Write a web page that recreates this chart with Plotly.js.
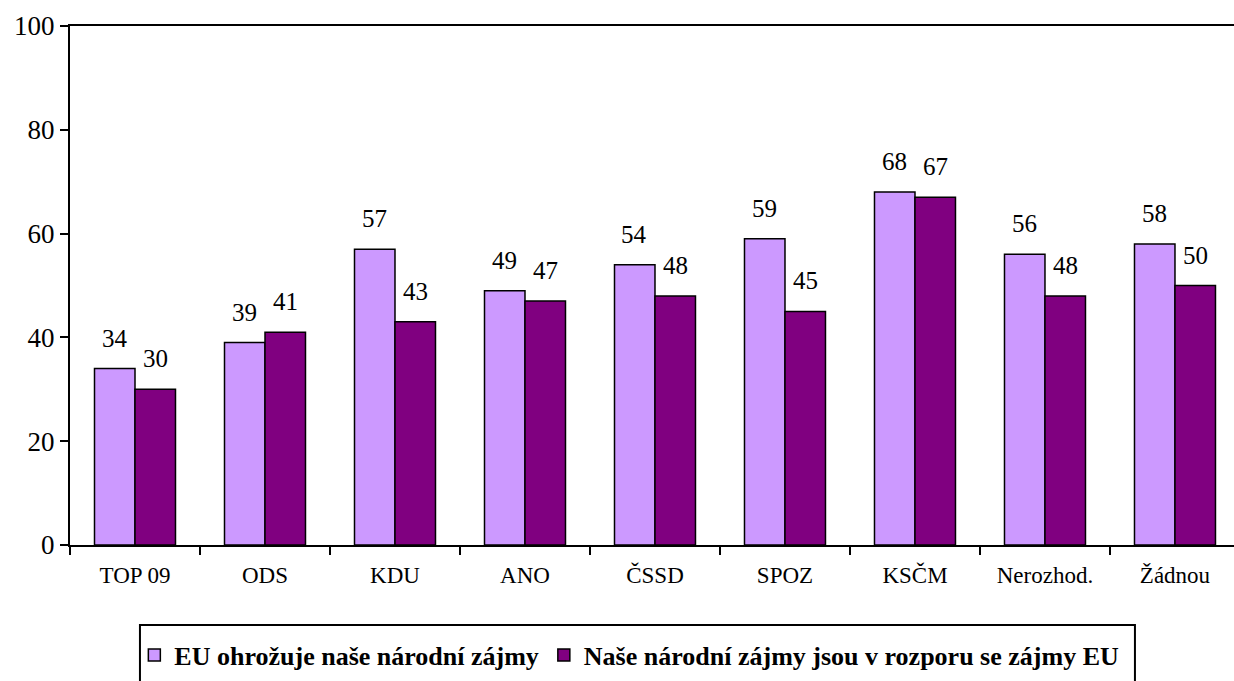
<!DOCTYPE html>
<html>
<head>
<meta charset="utf-8">
<script src="https://cdn.plot.ly/plotly-3.0.1.min.js"></script>
<style>html,body{margin:0;padding:0;background:#fff;}</style>
</head>
<body>
<div id="chart" style="width:1234px;height:681px;"></div>
<script>
const categories = ["TOP 09", "ODS", "KDU", "ANO", "ČSSD", "SPOZ", "KSČM", "Nerozhod.", "Žádnou"];
const seriesNames = ["EU ohrožuje naše národní zájmy", "Naše národní zájmy jsou v rozporu se zájmy EU"];
const threatens = [34, 39, 57, 49, 54, 59, 68, 56, 58];
const conflict = [30, 41, 43, 47, 48, 45, 67, 48, 50];
const yTicks = [0, 20, 40, 60, 80, 100];

const serif = "Liberation Serif";
const colors = ["#CC99FF", "#800080"];

const traces = [threatens, conflict].map((vals, i) => ({
  type: "bar",
  name: seriesNames[i],
  x: categories,
  y: vals,
  marker: { color: colors[i], line: { color: "#000", width: 1.5 } },
  hoverinfo: "x+y"
}));

const annotations = [];
[threatens, conflict].forEach((vals, i) => {
  vals.forEach((v, j) => {
    annotations.push({
      x: categories[j], y: v, xref: "x", yref: "y",
      text: String(v), showarrow: false,
      xanchor: "center", yanchor: "bottom",
      xshift: i === 0 ? -20.5 : 20.5, yshift: 15,
      font: { family: serif, size: 25, color: "#000" }
    });
  });
});

const layout = {
  width: 1234, height: 681,
  margin: { l: 70, r: 0, t: 26, b: 136 },
  paper_bgcolor: "#fff", plot_bgcolor: "#fff",
  barmode: "group", bargap: 0.377, bargroupgap: 0,
  font: { family: serif, color: "#000" },
  xaxis: {
    type: "category",
    range: [-0.5, 8.454],
    showline: true, linecolor: "#000", linewidth: 2, mirror: true,
    ticks: "outside", tickson: "boundaries", ticklen: 8, tickwidth: 2, tickcolor: "#000",
    ticklabelstandoff: 8,
    showgrid: false, zeroline: false,
    tickfont: { family: serif, size: 23, color: "#000" }
  },
  yaxis: {
    range: [0, 100],
    tickvals: yTicks,
    showline: true, linecolor: "#000", linewidth: 2,
    ticks: "outside", ticklen: 8, tickwidth: 2, tickcolor: "#000",
    showgrid: false, zeroline: false,
    tickfont: { family: serif, size: 27, color: "#000" }
  },
  showlegend: true,
  legend: {
    orientation: "h",
    xref: "container", yref: "container",
    x: 0.510, xanchor: "center",
    y: 0.038, yanchor: "middle",
    font: { family: serif, size: 26, color: "#000", weight: "bold" },
    bgcolor: "rgba(0,0,0,0)", borderwidth: 0,
    traceorder: "normal"
  },
  shapes: [{
    type: "rect", xref: "paper", yref: "paper",
    x0: 0.0601, x1: 0.9149, y0: -0.1541, y1: -0.2794,
    line: { color: "#000", width: 2 }, fillcolor: "rgba(0,0,0,0)", layer: "above"
  }],
  annotations: annotations
};

Plotly.newPlot("chart", traces, layout, { staticPlot: true, displayModeBar: false });
</script>
</body>
</html>
